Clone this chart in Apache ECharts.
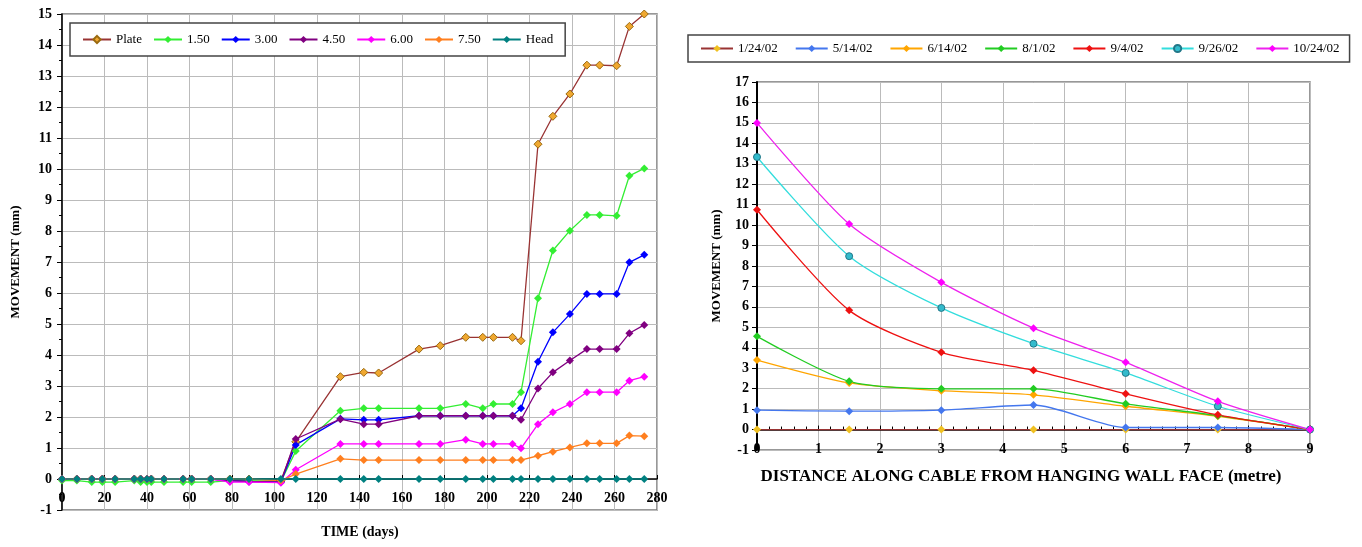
<!DOCTYPE html>
<html><head><meta charset="utf-8">
<script src="https://cdn.jsdelivr.net/npm/echarts@6/dist/echarts.min.js"></script>
<style>html,body{margin:0;padding:0;background:#fff}#c{width:1362px;height:547px}</style>
</head><body><div id="c"></div>
<script>
// ---- Left chart data ----
const days = [0,7,14,19,25,34,37,40,42,48,57,61,70,79,88,103,110,131,142,149,168,178,190,198,203,212,216,224,231,239,247,253,261,267,274];
const plate = [0,0,0,0,0,0,0,0,0,0,0,0,0,0,0,-0.05,1.2,3.3,3.44,3.42,4.19,4.3,4.57,4.57,4.57,4.57,4.46,10.8,11.7,12.42,13.35,13.35,13.33,14.6,15.0];
const s150 = [-0.05,-0.05,-0.1,-0.1,-0.1,-0.05,-0.1,-0.1,-0.1,-0.1,-0.1,-0.1,-0.1,-0.05,-0.05,-0.08,0.9,2.2,2.28,2.28,2.28,2.28,2.42,2.28,2.42,2.42,2.8,5.83,7.37,8.01,8.52,8.52,8.49,9.78,10.02];
const s300 = [0,0,0,0,0,0,0,0,0,0,0,0,0,-0.05,-0.08,-0.1,1.1,1.94,1.91,1.91,2.04,2.04,2.04,2.04,2.04,2.04,2.28,3.78,4.73,5.32,5.97,5.97,5.97,6.99,7.23];
const s450 = [0,0,0,0,0,0,0,0,0,0,0,0,0,-0.05,-0.08,-0.1,1.29,1.93,1.77,1.77,2.04,2.04,2.04,2.04,2.04,2.04,1.91,2.92,3.44,3.82,4.19,4.19,4.19,4.7,4.97];
const s600 = [0,0,0,0,0,0,0,0,0,0,0,0,0,-0.1,-0.1,-0.12,0.3,1.13,1.13,1.13,1.13,1.13,1.27,1.13,1.13,1.13,0.99,1.77,2.15,2.42,2.8,2.8,2.8,3.17,3.3];
const s750 = [0,0,0,0,0,0,0,0,0,0,0,0,0,0,0,-0.05,0.16,0.65,0.61,0.61,0.61,0.61,0.61,0.61,0.61,0.61,0.61,0.75,0.88,1.02,1.15,1.15,1.15,1.4,1.38];
const head = [0,0,0,0,0,0,0,0,0,0,0,0,0,0,0,0,0,0,0,0,0,0,0,0,0,0,0,0,0,0,0,0,0,0,0];
const leftNames = ['Plate','1.50','3.00','4.50','6.00','7.50','Head'];

// ---- Right chart data ----
const dist = [0,1.5,3,4.5,6,7.5,9];
const d0124 = [0,0,0,0,0,0,0];
const d0514 = [0.95,0.9,0.95,1.2,0.1,0.1,0];
const d0614 = [3.4,2.28,1.9,1.7,1.14,0.65,0];
const d0801 = [4.56,2.36,1.99,1.99,1.26,0.68,0];
const d0904 = [10.75,5.83,3.78,2.9,1.75,0.72,0];
const d0926 = [13.33,8.48,5.95,4.2,2.77,1.14,0];
const d1024 = [15.0,10.05,7.2,4.96,3.29,1.38,0];
const rightNames = ['1/24/02','5/14/02','6/14/02','8/1/02','9/4/02','9/26/02','10/24/02'];

const serif = 'Liberation Serif';
const pair = (xs, ys) => xs.map((x,i)=>[x, ys[i]]);

const leftSpec = [
  {data: plate, line:'#993333', fill:'#F0A830', border:'#9a6a10'},
  {data: s150, line:'#33EE33', fill:'#33EE33'},
  {data: s300, line:'#0000FF', fill:'#0000FF'},
  {data: s450, line:'#800080', fill:'#800080'},
  {data: s600, line:'#FF00FF', fill:'#FF00FF'},
  {data: s750, line:'#FF7F1F', fill:'#FF7F1F'},
  {data: head, line:'#008080', fill:'#008080'}
];
const rightSpec = [
  {data: d0124, line:'#993333', fill:'#F0C020', sym:'diamond'},
  {data: d0514, line:'#4477EE', fill:'#4477EE', sym:'diamond'},
  {data: d0614, line:'#FFA500', fill:'#FFA500', sym:'diamond'},
  {data: d0801, line:'#22CC22', fill:'#22CC22', sym:'diamond'},
  {data: d0904, line:'#EE1111', fill:'#EE1111', sym:'diamond'},
  {data: d0926, line:'#33DDDD', fill:'#33BBCC', sym:'circle', border:'#227788'},
  {data: d1024, line:'#EE22EE', fill:'#FF00FF', sym:'diamond'}
];

const series = [];
leftSpec.forEach((s,i)=>{
  series.push({
    name: leftNames[i], type:'line', xAxisIndex:0, yAxisIndex:0,
    data: pair(days, s.data), symbol:'diamond', symbolSize:8,
    lineStyle:{color:s.line, width:1.3}, itemStyle:{color:s.fill, borderColor:s.border||s.fill, borderWidth:s.border?1:0},
    animation:false
  });
});
rightSpec.forEach((s,i)=>{
  series.push({
    name: rightNames[i], type:'line', xAxisIndex:1, yAxisIndex:1,
    data: pair(dist, s.data), symbol:s.sym, symbolSize:s.sym==='circle'?7:8, smooth:0.25,
    lineStyle:{color:s.line, width:1.3}, itemStyle:{color:s.fill, borderColor:s.border||s.fill, borderWidth:s.border?1:0},
    animation:false
  });
});

const axisLbl = {color:'#000', fontFamily:serif, fontWeight:'bold', fontSize:14};
const grid = {show:true, borderColor:'#777', borderWidth:1.5, backgroundColor:'#fff'};
const split = {show:true, lineStyle:{color:'#bbb', width:1}};
const LH = 496, RH = 368;

const option = {
  backgroundColor:'#fff',
  animation:false,
  grid:[
    Object.assign({left:62, top:14, width:595, height:LH}, grid),
    Object.assign({left:757, top:82, width:553, height:RH}, grid)
  ],
  legend:[
    {data:leftNames, left:70, top:23, width:700, orient:'horizontal', padding:[10,12,10,12],
     itemGap:11, itemWidth:28, itemHeight:9, borderColor:'#444', borderWidth:1.5, backgroundColor:'#fff',
     textStyle:{fontFamily:serif, fontSize:13, color:'#000'}},
    {data:rightNames, left:688, top:35, width:700, padding:[7,10,7,12], itemGap:17, itemWidth:32, itemHeight:9,
     borderColor:'#444', borderWidth:1.5, backgroundColor:'#fff',
     textStyle:{fontFamily:serif, fontSize:13, color:'#000'}}
  ],
  xAxis:[
    {type:'value', gridIndex:0, min:0, max:280, interval:20, offset:-LH/16,
     axisLine:{onZero:false, lineStyle:{color:'#000', width:1.5}},
     axisTick:{show:true, length:4, inside:true, lineStyle:{color:'#000'}}, axisLabel:Object.assign({margin:12}, axisLbl), splitLine:split},
    {type:'value', gridIndex:1, min:0, max:9, interval:1, offset:-RH/18,
     axisLine:{onZero:false, lineStyle:{color:'#000', width:1.5}},
     axisTick:{show:true, length:4, inside:true, lineStyle:{color:'#000'}},
     minorTick:{show:true, splitNumber:5, length:3, lineStyle:{color:'#000'}},
     axisLabel:Object.assign({margin:13}, axisLbl), splitLine:split}
  ],
  yAxis:[
    {type:'value', gridIndex:0, min:-1, max:15, interval:1, axisLine:{show:true, onZero:false, lineStyle:{color:'#000', width:1.5}},
     axisTick:{show:true, length:5, lineStyle:{color:'#000'}},
     minorTick:{show:true, splitNumber:2, length:3, lineStyle:{color:'#000'}},
     axisLabel:Object.assign({margin:10}, axisLbl), splitLine:split,
     name:'MOVEMENT (mm)', nameLocation:'middle', nameGap:40, nameRotate:90,
     nameTextStyle:{fontFamily:serif, fontWeight:'bold', fontSize:13, color:'#000'}},
    {type:'value', gridIndex:1, min:-1, max:17, interval:1, axisLine:{show:true, onZero:false, lineStyle:{color:'#000', width:2}},
     axisTick:{show:true, length:5, lineStyle:{color:'#000'}},
     axisLabel:Object.assign({margin:8}, axisLbl), splitLine:split,
     name:'MOVEMENT (mm)', nameLocation:'middle', nameGap:34, nameRotate:90,
     nameTextStyle:{fontFamily:serif, fontWeight:'bold', fontSize:13, color:'#000'}}
  ],
  graphic:[
    {type:'text', x:360, y:525, style:{text:'TIME (days)', align:'center', fontFamily:serif, fontWeight:'bold', fontSize:14, fill:'#000'}},
    {type:'text', x:1021, y:468, style:{text:'DISTANCE ALONG CABLE FROM HANGING WALL FACE (metre)', align:'center', fontFamily:serif, fontWeight:'bold', fontSize:17, fill:'#000'}}
  ],
  series: series
};
const chart = echarts.init(document.getElementById('c'), null, {renderer:'canvas'});
chart.setOption(option);
</script></body></html>
